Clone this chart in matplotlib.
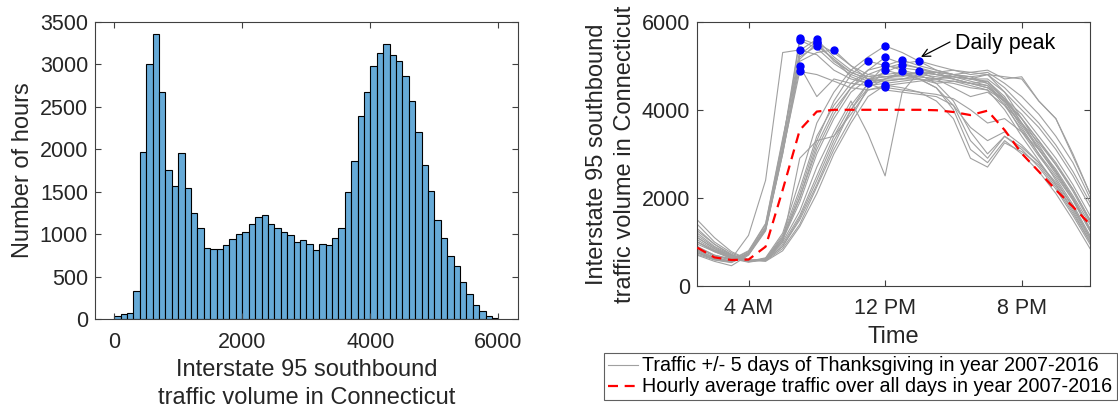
import matplotlib
matplotlib.use("Agg")
import matplotlib.pyplot as plt
import numpy as np
from matplotlib.lines import Line2D

plt.rcParams['font.family'] = ['Liberation Sans', 'DejaVu Sans']

# ---------------- data: histogram ----------------
bin_width = 100
bin_left = list(range(0, 6000, 100))
counts = [40, 55, 70, 325, 1972, 3010, 3355, 2673, 1756, 1572,
          1952, 1541, 1247, 1070, 835, 823, 823, 870, 941, 1007,
          1031, 1125, 1203, 1231, 1117, 1078, 1027, 988, 909, 929,
          878, 811, 878, 870, 958, 1070, 1502, 1863, 2392, 2678,
          2984, 3129, 3235, 3106, 3039, 2867, 2565, 2208, 1816, 1514,
          1161, 949, 745, 620, 435, 298, 169, 98, 31, 8]
hist_xticks = [0, 2000, 4000, 6000]
hist_yticks = [0, 500, 1000, 1500, 2000, 2500, 3000, 3500]

# ---------------- data: hourly traffic ----------------
hours = list(range(1, 25))
time_ticks = [4, 12, 20]
time_labels = ['4 AM', '12 PM', '8 PM']
traffic_yticks = [0, 2000, 4000, 6000]

day01 = [820, 650, 560, 760, 1350, 3250, 5620, 5480, 5150, 4850, 4700, 4750, 4800, 4850, 4800, 4750, 4700, 4650, 4300, 3700, 3100, 2600, 2000, 1300]
day02 = [750, 600, 540, 720, 1300, 3150, 5580, 5400, 5050, 4800, 4650, 4700, 4700, 4750, 4700, 4800, 4750, 4600, 4150, 3500, 2950, 2450, 1850, 1150]
day03 = [900, 700, 620, 1150, 2400, 5300, 5360, 5250, 4900, 4700, 4600, 4650, 4700, 4700, 4650, 4600, 4500, 4450, 4200, 3600, 3000, 2400, 1800, 1100]
day04 = [700, 560, 460, 700, 1250, 3000, 4990, 4300, 4700, 4600, 4550, 4600, 4650, 4700, 4600, 4650, 4550, 4450, 4000, 3400, 2850, 2300, 1750, 1050]
day05 = [780, 620, 560, 740, 1280, 3050, 4870, 4800, 4650, 4500, 4450, 4550, 4600, 4650, 4700, 4750, 4650, 4550, 4100, 3550, 3000, 2500, 1950, 1250]
day06 = [850, 680, 590, 780, 1400, 3300, 5350, 5600, 5200, 4900, 4750, 4800, 4850, 4800, 4750, 4700, 4600, 4500, 4250, 3800, 3300, 2750, 2150, 1450]
day07 = [800, 640, 570, 740, 1320, 3100, 5250, 5550, 5100, 4850, 4700, 4650, 4700, 4800, 4850, 4900, 4850, 4800, 4750, 4700, 4200, 3800, 3000, 2100]
day08 = [720, 590, 530, 710, 1280, 3000, 5150, 5510, 5300, 5000, 4800, 4750, 4750, 4850, 4800, 4750, 4700, 4800, 4400, 3800, 3200, 2600, 2000, 1300]
day09 = [880, 700, 600, 800, 1420, 3350, 5200, 5450, 5150, 4750, 4600, 4700, 4800, 4750, 4700, 4650, 4600, 4550, 4200, 3650, 3100, 2550, 1950, 1250]
day10 = [760, 610, 550, 730, 1300, 3050, 5100, 5300, 5360, 5000, 4700, 4750, 4800, 4850, 4850, 4800, 4700, 4600, 4250, 3700, 3150, 2650, 2050, 1400]
day11 = [1100, 850, 650, 560, 620, 1100, 2100, 3300, 4200, 4800, 5110, 5000, 4950, 4900, 4850, 4800, 4700, 4700, 4400, 4000, 3600, 3100, 2500, 1800]
day12 = [1300, 950, 720, 580, 600, 950, 1600, 2500, 3400, 4100, 4600, 4450, 4400, 4350, 4300, 4100, 3600, 3300, 3500, 3200, 2800, 2300, 1700, 1000]
day13 = [1000, 800, 640, 560, 640, 1200, 2400, 3700, 4400, 4900, 5200, 5450, 5300, 5100, 4900, 4800, 4750, 4800, 4500, 4100, 3700, 3200, 2600, 1900]
day14 = [950, 780, 620, 540, 600, 1050, 2000, 3100, 3900, 4500, 4900, 5190, 5050, 4950, 4800, 4700, 4600, 4500, 4200, 3800, 3300, 2800, 2200, 1500]
day15 = [1200, 900, 700, 570, 580, 900, 1500, 2300, 3200, 4000, 4600, 5020, 4900, 4800, 4600, 4200, 3500, 3000, 3400, 3100, 2700, 2200, 1600, 950]
day16 = [1500, 1100, 780, 600, 570, 850, 1400, 2250, 3100, 3800, 4500, 4900, 4800, 4700, 4500, 4000, 3100, 2800, 3300, 3000, 2600, 2100, 1500, 850]
day17 = [1400, 1000, 750, 590, 560, 800, 1350, 2100, 3000, 3700, 4300, 4560, 4500, 4400, 4200, 3800, 2900, 2700, 3250, 3050, 2750, 2250, 1650, 1000]
day18 = [1150, 880, 680, 560, 600, 1000, 2900, 3300, 3400, 3900, 4450, 4510, 4450, 4400, 4350, 4250, 4000, 3700, 3800, 3500, 3100, 2600, 2000, 1300]
day19 = [1000, 800, 640, 550, 620, 1150, 2200, 3400, 4100, 4600, 4900, 5000, 5130, 5000, 4900, 4800, 4850, 4900, 4700, 4750, 4200, 3800, 2950, 2100]
day20 = [1050, 820, 660, 560, 600, 1050, 1900, 3000, 3800, 4400, 4700, 4850, 5020, 4950, 4850, 4700, 4600, 4650, 4250, 3900, 3400, 2900, 2300, 1600]
day21 = [1250, 950, 700, 580, 590, 900, 1550, 2400, 3300, 4000, 4500, 4700, 4870, 4700, 4500, 4100, 3300, 2900, 3400, 3150, 2800, 2350, 1800, 1100]
day22 = [1100, 850, 680, 570, 610, 1100, 2000, 3200, 4000, 4500, 4800, 4950, 5050, 5110, 5000, 4900, 4800, 4850, 4600, 4300, 3900, 3400, 2800, 2000]
day23 = [1000, 780, 640, 560, 620, 1000, 1700, 2700, 3500, 4200, 3450, 2500, 4400, 4870, 4700, 4500, 4300, 4400, 4100, 3700, 3250, 2750, 2200, 1500]
days = [day01, day02, day03, day04, day05, day06, day07, day08, day09, day10,
        day11, day12, day13, day14, day15, day16, day17, day18, day19, day20,
        day21, day22, day23]

hourly_average = [870, 650, 590, 600, 893, 2180, 3540, 3960, 4000, 4000, 4000, 4000,
                  4000, 4000, 3990, 3950, 3880, 3980, 3540, 3010, 2600, 2180, 1800, 1400]

# ---------------- figure ----------------
W, H = 1118, 408
fig = plt.figure(figsize=(W / 100, H / 100), dpi=100)

axis_col = '#404040'
text_col = '#262626'
tick_fs = 15.5
label_fs = 17
legend_fs = 14.2

def style(ax):
    for s in ax.spines.values():
        s.set_color(axis_col)
        s.set_linewidth(0.8)
    ax.tick_params(direction='in', top=True, right=True, length=4, width=0.8,
                   color=axis_col, labelsize=tick_fs, labelcolor=text_col)
    ax.tick_params(axis='x', pad=9)
    ax.tick_params(axis='y', pad=5)

# Left: histogram
ax1 = fig.add_axes([95 / W, 1 - 319 / H, (517.7 - 95) / W, 297 / H])
ax1.bar(bin_left, counts, width=bin_width, align='edge',
        color=(0.4, 0.668, 0.845), edgecolor='black', linewidth=0.8)
ax1.set_xlim(-300, 6300)
ax1.set_ylim(0, 3500)
ax1.set_xticks(hist_xticks)
ax1.set_yticks(hist_yticks)
style(ax1)
ax1.set_xlabel('Interstate 95 southbound\ntraffic volume in Connecticut',
               fontsize=label_fs, color=text_col, labelpad=5, linespacing=1.35)
ax1.set_ylabel('Number of hours', fontsize=label_fs, color=text_col, labelpad=4)

# Right: hourly traffic
ax2 = fig.add_axes([697.3 / W, 1 - 286 / H, (1090 - 697.3) / W, 264.3 / H])
for d in days:
    ax2.plot(hours, d, color='#a0a0a0', linewidth=0.8, zorder=2)
for d in days:
    i = int(np.argmax(d))
    ax2.plot(hours[i], d[i], 'o', color='blue', markersize=5, zorder=4)
ax2.plot(hours, hourly_average, color='red', linewidth=1.6, linestyle=(0, (4.5, 3)), zorder=3)
ax2.set_xlim(1, 24)
ax2.set_ylim(0, 6000)
ax2.set_xticks(time_ticks)
ax2.set_xticklabels(time_labels)
ax2.set_yticks(traffic_yticks)
style(ax2)
ax2.set_xlabel('Time', fontsize=label_fs, color=text_col, labelpad=5)
ax2.set_ylabel('Interstate 95 southbound\ntraffic volume in Connecticut',
               fontsize=label_fs, color=text_col, labelpad=4, linespacing=1.35)

ax2.annotate('', xy=(14.1, 5200), xytext=(15.8, 5540),
             arrowprops=dict(arrowstyle='->', color='black', lw=0.9,
                             shrinkA=0, shrinkB=0, mutation_scale=14))
ax2.text(16.1, 5500, 'Daily peak', fontsize=tick_fs, color='black',
         ha='left', va='center')

# Legend
handles = [Line2D([], [], color='#a0a0a0', linewidth=0.8),
           Line2D([], [], color='red', linewidth=1.6, linestyle=(0, (4.5, 3)))]
labels = ['Traffic +/- 5 days of Thanksgiving in year 2007-2016',
          'Hourly average traffic over all days in year 2007-2016']
leg = fig.legend(handles, labels, loc='upper left',
                 bbox_to_anchor=(604 / W, 1 - 352.5 / H), bbox_transform=fig.transFigure,
                 fontsize=legend_fs, frameon=True, fancybox=False, framealpha=1,
                 edgecolor='#606060', borderpad=0.2, labelspacing=0.1,
                 handlelength=1.5, handletextpad=0.25, borderaxespad=0)
leg.get_frame().set_linewidth(0.8)

fig.savefig('out.png', dpi=100)
